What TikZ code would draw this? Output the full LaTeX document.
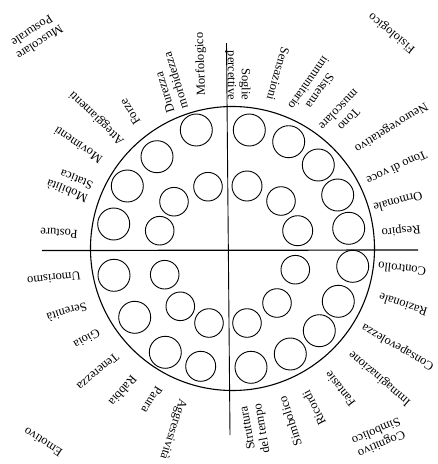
\documentclass[tikz,border=0pt]{standalone}
\usepackage{fontspec}
\setmainfont{Liberation Serif}
\begin{document}
\begin{tikzpicture}[x=1pt,y=-1pt,
  lbl/.style={font=\fontsize{12.5}{14}\selectfont, inner sep=0pt, anchor=center},
  big/.style={draw, line width=1.1pt},
  sml/.style={draw, line width=0.9pt},
  axis/.style={draw, line width=1.2pt}]
\fill[white] (0,0) rectangle (438,464);
\useasboundingbox (0,0) rectangle (438,464);
% main circle and cross
\coordinate (c) at (232.5,248.5);
\draw[big] (c) circle[radius=142];
\coordinate (hl) at (42,250.5);
\coordinate (hr) at (418,250);
\coordinate (vt) at (226.5,43);
\coordinate (vb) at (230,435);
\draw[axis] (hl) -- (hr);
\draw[axis, line width=0.9pt] (vt) -- (vb);
% small circles: top-left
\foreach \x/\y/\r [count=\i] in {196.3/130/16, 157/156.7/16, 127.3/186/16, 113.7/224/16,
   208/186.7/14.3, 174/201.7/14.3, 159.7/230.7/14.3,
   249.3/130/16, 288.7/141.7/16, 318.3/165/16, 337.7/195/16, 348.7/228.3/16,
   247/186/15, 281/201/14.3, 297.7/230.7/15,
   114/275.3/16, 164.7/274.7/14.3, 134.7/317.3/16, 180.3/306.3/14.3, 209/323/14.3,
   165.3/352.3/16, 200.7/366.3/15,
   295.3/269.7/14.3, 352.7/266.3/16, 277/303/14.3, 338.3/301.3/16, 247/323/14.3,
   319.3/330.7/16, 290.3/354/16, 251/367.3/16}
  \draw[sml] (\x,\y) circle[radius=\r];
% category labels
\node[lbl, rotate=141, align=center] (fis) at (392,33) {Fisiologico};
\node[lbl, rotate=213, align=center] (mus) at (36,37) {Muscolare\\Posturale};
\node[lbl, rotate=147, align=center] (emo) at (43,442) {Emotivo};
\node[lbl, rotate=203, align=center] (cog) at (379,438) {Cognitivo\\Simbolico};
% left half labels (outward)
\node[lbl, rotate=92] (morf) at (201,64) {Morfologico};
\node[lbl, rotate=107, align=left] (dur) at (169,82.5) {Durezza\\morbidezza};
\node[lbl, rotate=122] (forze) at (130,112) {Forze};
\node[lbl, rotate=136] (att) at (97,118) {Atteggiamenti};
\node[lbl, rotate=146] (mov) at (78,145) {Movimenti};
\node[lbl, rotate=158, align=left] (mob) at (69.7,184.5) {Mobilità\\Statica};
\node[lbl, rotate=176] (post) at (59,233) {Posture};
\node[lbl, rotate=186] (umo) at (54,278) {Umorismo};
\node[lbl, rotate=196] (ser) at (67,312) {Serenità};
\node[lbl, rotate=209] (gio) at (87,339) {Gioia};
\node[lbl, rotate=220] (ten) at (98,372) {Tenerezza};
\node[lbl, rotate=229] (rab) at (123,391) {Rabbia};
\node[lbl, rotate=238] (pau) at (152,400) {Paura};
\node[lbl, rotate=252] (agg) at (173,429) {Aggressività};
% right half labels (inward)
\node[lbl, rotate=270, align=right] (sog) at (238,75.5) {Soglie\\percettive};
\node[lbl, rotate=254] (sen) at (278,74) {Sensazioni};
\node[lbl, rotate=235, align=center] (sis) at (314.5,87) {Sistema\\immunitario};
\node[lbl, rotate=226, align=center] (tono) at (344,115) {Tono\\muscolare};
\node[lbl, rotate=212] (neu) at (391,127) {Neurovegetativo};
\node[lbl, rotate=205] (voce) at (397,168) {Tono di voce};
\node[lbl, rotate=195] (orm) at (398,202) {Ormonale};
\node[lbl, rotate=186] (resp) at (401,230) {Respiro};
\node[lbl, rotate=174] (cont) at (402,269) {Controllo};
\node[lbl, rotate=162] (raz) at (403,305) {Razionale};
\node[lbl, rotate=150] (cons) at (398,347) {Consapevolezza};
\node[lbl, rotate=139] (imm) at (380,378) {Immaginazione};
\node[lbl, rotate=128] (fan) at (340,389) {Fantasie};
\node[lbl, rotate=117] (ric) at (314,408) {Ricordi};
\node[lbl, rotate=108] (sim) at (290,421) {Simbolico};
\node[lbl, rotate=100, align=right] (str) at (255.7,429.5) {Struttura\\del tempo};
\end{tikzpicture}
\end{document}
